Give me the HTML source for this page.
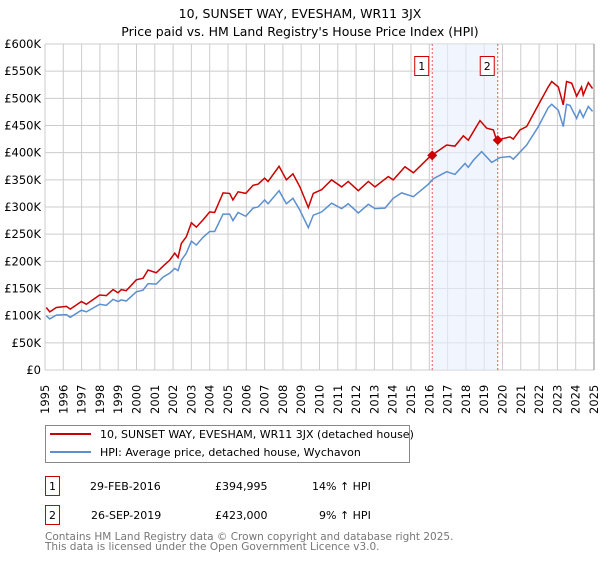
<!DOCTYPE html>
<html><head><meta charset="utf-8"><style>
body{margin:0;background:#fff;font-family:"DejaVu Sans","Liberation Sans",sans-serif;}
</style></head><body>
<svg id="c" width="600" height="560" xmlns="http://www.w3.org/2000/svg" font-family="DejaVu Sans, Liberation Sans, sans-serif">
<text x="300" y="18" text-anchor="middle" font-size="12.5">10, SUNSET WAY, EVESHAM, WR11 3JX</text>
<text x="300" y="36" text-anchor="middle" font-size="12.5">Price paid vs. HM Land Registry's House Price Index (HPI)</text>
<g id="grid"></g><g id="band"></g><g id="series"></g><g id="axes"></g>
<g>
<rect x="45.5" y="425.5" width="364" height="37" fill="#fff" stroke="#888"/>
<line x1="50" y1="434" x2="91" y2="434" stroke="#cc0000" stroke-width="2"/>
<text x="100" y="438" font-size="11">10, SUNSET WAY, EVESHAM, WR11 3JX (detached house)</text>
<line x1="50" y1="452" x2="91" y2="452" stroke="#5b8fd0" stroke-width="2"/>
<text x="100" y="456" font-size="11">HPI: Average price, detached house, Wychavon</text>
</g>
<g font-size="11">
<rect x="45.5" y="476.5" width="14" height="19" fill="#fff" stroke="#cc0000"/>
<text x="52.5" y="490" text-anchor="middle">1</text>
<text x="90" y="490">29-FEB-2016</text><text x="215" y="490">£394,995</text><text x="312" y="490">14% ↑ HPI</text>
<rect x="45.5" y="505.5" width="14" height="19" fill="#fff" stroke="#cc0000"/>
<text x="52.5" y="519" text-anchor="middle">2</text>
<text x="91" y="519">26-SEP-2019</text><text x="215" y="519">£423,000</text><text x="319" y="519">9% ↑ HPI</text>
</g>
<text x="45" y="540" font-size="10.5" fill="#777">Contains HM Land Registry data © Crown copyright and database right 2025.</text>
<text x="45" y="550" font-size="10.5" fill="#777">This data is licensed under the Open Government Licence v3.0.</text>
</svg>
<script>
const hpiYears=[1995.07,1995.26,1995.62,1996.17,1996.38,1996.99,1997.26,1997.99,1998.35,1998.72,1998.99,1999.17,1999.44,1999.99,2000.36,2000.63,2001.08,2001.45,2001.81,2002.09,2002.27,2002.45,2002.72,2003.0,2003.27,2003.63,2004.0,2004.27,2004.73,2005.09,2005.27,2005.55,2005.97,2006.37,2006.64,2007.0,2007.19,2007.79,2008.19,2008.55,2008.93,2009.39,2009.66,2010.12,2010.66,2011.21,2011.57,2012.12,2012.67,2013.03,2013.58,2014.03,2014.49,2015.13,2015.95,2016.22,2016.95,2017.40,2017.95,2018.13,2018.41,2018.86,2019.41,2019.86,2020.41,2020.59,2021.32,2021.96,2022.50,2022.69,2023.05,2023.32,2023.50,2023.69,2024.05,2024.23,2024.41,2024.69,2024.92];
const hpiValues=[100,94,101,102,97,110,107,121,119,130,126,129,127,144,147,159,158,171,178,187,183,202,215,237,230,244,255,255,287,287,275,290,283,298,300,313,306,330,306,316,294,262,285,291,307,297,306,289,305,297,298,316,326,319,342,352,365,360,380,373,386,402,382,391,393,388,414,448,483,489,478,448,489,487,463,478,465,485,476];
const priceYears=[1995.07,1995.26,1995.62,1996.17,1996.38,1996.99,1997.26,1997.99,1998.35,1998.72,1998.99,1999.17,1999.44,1999.99,2000.36,2000.63,2001.08,2001.45,2001.81,2002.09,2002.27,2002.45,2002.72,2003.0,2003.27,2003.63,2004.0,2004.27,2004.73,2005.09,2005.27,2005.55,2005.97,2006.37,2006.64,2007.0,2007.19,2007.79,2008.19,2008.55,2008.93,2009.39,2009.66,2010.12,2010.66,2011.21,2011.57,2012.12,2012.67,2013.03,2013.76,2014.03,2014.67,2015.13,2015.95,2016.13,2016.95,2017.40,2017.86,2018.13,2018.77,2019.14,2019.50,2019.68,2020.41,2020.59,2020.96,2021.32,2021.96,2022.50,2022.69,2023.05,2023.32,2023.50,2023.78,2024.05,2024.32,2024.41,2024.69,2024.92];
const priceValues=[115,107,115,117,112,126,121,138,137,148,142,148,146,166,169,184,179,191,202,215,207,233,245,271,263,276,291,290,326,325,313,328,325,340,342,353,347,375,350,361,337,299,325,332,350,337,347,330,347,337,356,350,374,363,390,395,414,412,431,423,459,445,442,423,429,425,442,448,488,521,531,521,488,531,528,504,521,506,529,518];
const saleYears=[2016.16,2019.74];
const saleValues=[394.995,423];
const saleLabels=["1","2"];
const yTicks=[0,50,100,150,200,250,300,350,400,450,500,550,600];
const yTickLabels=["£0","£50K","£100K","£150K","£200K","£250K","£300K","£350K","£400K","£450K","£500K","£550K","£600K"];
const xTicks=[1995,1996,1997,1998,1999,2000,2001,2002,2003,2004,2005,2006,2007,2008,2009,2010,2011,2012,2013,2014,2015,2016,2017,2018,2019,2020,2021,2022,2023,2024,2025];

const NS="http://www.w3.org/2000/svg";
const L=45,R=594,T=44,B=370;
const xs=y=>L+(y-1995)/30*(R-L);
const ys=v=>B-v/600*(B-T);
function mk(tag,attrs,parent){const e=document.createElementNS(NS,tag);for(const k in attrs)e.setAttribute(k,attrs[k]);document.getElementById(parent).appendChild(e);return e;}
yTicks.forEach((v,i)=>{
 const g=mk('line',{x1:L,x2:R,y1:ys(v),y2:ys(v),stroke:'#cccccc','stroke-width':1},'grid');
 
 
 const t=mk('text',{x:L-4,y:ys(v)+4,'text-anchor':'end','font-size':11.5},'axes');
 t.textContent=yTickLabels[i];
 
 
});
xTicks.forEach(y=>{
 const g=mk('line',{x1:xs(y),x2:xs(y),y1:T,y2:B,stroke:'#cccccc','stroke-width':1},'grid');
 
 
 const t=mk('text',{transform:`translate(${xs(y)+4},${B+44}) rotate(-90)`,'font-size':11.5},'axes');
 t.textContent=String(y);
 
 
});
const rb=mk('line',{x1:R,x2:R,y1:T,y2:B,stroke:'#888','stroke-width':1},'axes');


const band=mk('rect',{x:xs(saleYears[0]),y:T,width:xs(saleYears[1])-xs(saleYears[0]),height:B-T,fill:'#e8eefb','fill-opacity':0.6},'band');


saleYears.forEach((y,i)=>{
 const l=mk('line',{x1:xs(y),x2:xs(y),y1:T,y2:B,stroke:'#ee5555','stroke-width':1,'stroke-dasharray':'2,2'},'band');
 
 
 const r=mk('rect',{x:xs(y)-17.5,y:56.5,width:14,height:19,fill:'#fff',stroke:'#cc0000'},'axes');
 
 
 const t=mk('text',{x:xs(y)-10.5,y:70,'text-anchor':'middle','font-size':11},'axes');
 t.textContent=saleLabels[i];
 
 
});
const hp=mk('polyline',{points:hpiYears.map((y,i)=>xs(y)+','+ys(hpiValues[i])).join(' '),fill:'none',stroke:'#5b8fd0','stroke-width':1.5},'series');


const pp=mk('polyline',{points:priceYears.map((y,i)=>xs(y)+','+ys(priceValues[i])).join(' '),fill:'none',stroke:'#cc0000','stroke-width':1.5},'series');


saleYears.forEach((y,i)=>{
 const x=xs(y),v=ys(saleValues[i]);
 const d=mk('polygon',{points:`${x},${v-5} ${x+5},${v} ${x},${v+5} ${x-5},${v}`,fill:'#cc0000'},'series');
 
 
});
</script>
</body></html>
